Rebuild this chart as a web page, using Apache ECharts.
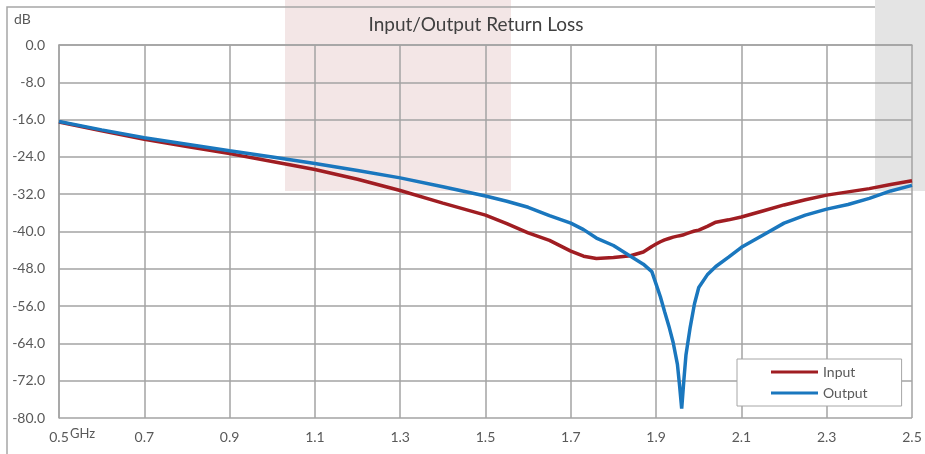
<!DOCTYPE html>
<html>
<head>
<meta charset="utf-8">
<script src="https://cdn.jsdelivr.net/npm/echarts@6/dist/echarts.min.js"></script>
<style>
  html, body { margin: 0; padding: 0; background: #fff; }
  #main { width: 925px; height: 454px; }
</style>
</head>
<body>
<div id="main"></div>
<script>
// frequency points (GHz), shared by both traces
var freqs = [0.5, 0.6, 0.7, 0.8, 0.9, 1.0, 1.1, 1.2, 1.3, 1.4, 1.5, 1.55, 1.6, 1.65, 1.7, 1.73, 1.76, 1.8,
  1.84, 1.87, 1.89, 1.9, 1.91, 1.92, 1.93, 1.94, 1.95, 1.955, 1.96, 1.965, 1.97, 1.98, 1.99, 2.0,
  2.02, 2.04, 2.07, 2.1, 2.15, 2.2, 2.25, 2.3, 2.35, 2.4, 2.45, 2.5];

var inputLoss = [-16.5, -18.4, -20.2, -21.8, -23.3, -25.0, -26.7, -28.8, -31.2, -33.9, -36.5, -38.3, -40.3, -41.9, -44.2, -45.3, -45.8, -45.6,
  -45.2, -44.4, -43.2, -42.7, -42.2, -41.8, -41.5, -41.2, -41.0, -40.9, -40.8, -40.7, -40.5, -40.2, -39.9, -39.7,
  -38.9, -38.0, -37.5, -36.9, -35.6, -34.3, -33.2, -32.2, -31.5, -30.8, -29.9, -29.1];

var outputLoss = [-16.4, -18.2, -19.9, -21.3, -22.7, -24.0, -25.4, -26.9, -28.5, -30.4, -32.4, -33.5, -34.8, -36.6, -38.2, -39.6, -41.4, -43.0,
  -45.3, -47.0, -48.6, -51.3, -54.0, -57.2, -60.3, -63.8, -68.5, -73.0, -78.0, -72.0, -66.5, -60.5, -55.5, -52.0,
  -49.3, -47.5, -45.5, -43.4, -40.8, -38.2, -36.5, -35.2, -34.2, -32.9, -31.3, -30.1];

var seriesNames = ['Input', 'Output'];
var yMin = -80, yMax = 0, yStep = 8;
var xMin = 0.5, xMax = 2.5, xStep = 0.2;

var font = 'Lato, "Open Sans", sans-serif';
var gridColor = '#a3a3a3';
var labelColor = '#595959';

function pairs(vals) {
  return freqs.map(function (f, i) { return [f, vals[i]]; });
}

var myChart = echarts.init(document.getElementById('main'));
var option = {
  backgroundColor: '#fff',
  animation: false,
  textStyle: { fontFamily: font },
  title: {
    text: 'Input/Output Return Loss',
    left: 476,
    top: 15,
    padding: 0,
    textAlign: 'center',
    textStyle: { fontFamily: font, fontSize: 19, fontWeight: 'normal', color: '#404040' }
  },
  graphic: [
    { type: 'rect', z: -30, silent: true, shape: { x: 285, y: 0, width: 226, height: 191 }, style: { fill: '#f3e6e6' } },
    { type: 'rect', z: -20, silent: true, shape: { x: 7, y: 7, width: 1000, height: 1000 }, style: { fill: 'none', stroke: '#a6a6a6', lineWidth: 1.5 } },
    { type: 'rect', z: -10, silent: true, shape: { x: 875, y: 0, width: 50, height: 191 }, style: { fill: '#e4e4e4' } },
    { type: 'text', left: 14, top: 12, style: { text: 'dB', fontFamily: font, fontSize: 14, fill: labelColor } },
    { type: 'text', left: 70, top: 427, style: { text: 'GHz', fontFamily: font, fontSize: 13, fill: labelColor } }
  ],
  legend: {
    data: seriesNames,
    orient: 'vertical',
    left: 737,
    top: 359,
    padding: [6, 34, 6, 34],
    itemGap: 7,
    itemWidth: 47,
    itemHeight: 3,
    icon: 'rect',
    selectedMode: false,
    backgroundColor: '#fff',
    borderColor: '#a6a6a6',
    borderWidth: 1,
    borderRadius: 0,
    textStyle: { fontFamily: font, fontSize: 14, color: labelColor, padding: [0, 0, 0, 0] }
  },
  grid: { left: 59, right: 13, top: 45, bottom: 36 },
  xAxis: {
    type: 'value',
    min: xMin,
    max: xMax,
    interval: xStep,
    axisLine: { show: true, lineStyle: { color: gridColor, width: 1.5 } },
    axisTick: { show: false },
    axisLabel: {
      margin: 12,
      fontFamily: font,
      fontSize: 14,
      color: labelColor,
      formatter: function (v) { return v.toFixed(1); }
    },
    splitLine: { show: true, lineStyle: { color: gridColor, width: 1.5 } }
  },
  yAxis: {
    type: 'value',
    min: yMin,
    max: yMax,
    interval: yStep,
    axisLine: { show: true, lineStyle: { color: gridColor, width: 1.5 } },
    axisTick: { show: false },
    axisLabel: {
      margin: 14,
      fontFamily: font,
      fontSize: 14,
      color: labelColor,
      formatter: function (v) { return v.toFixed(1); }
    },
    splitLine: { show: true, lineStyle: { color: gridColor, width: 1.5 } }
  },
  series: [
    {
      name: seriesNames[0],
      type: 'line',
      data: pairs(inputLoss),
      showSymbol: false,
      symbol: 'none',
      color: '#a01d22',
      lineStyle: { width: 3.5, color: '#a01d22' }
    },
    {
      name: seriesNames[1],
      type: 'line',
      data: pairs(outputLoss),
      showSymbol: false,
      symbol: 'none',
      color: '#1a77be',
      lineStyle: { width: 3.5, color: '#1a77be' }
    }
  ]
};
myChart.setOption(option);
</script>
</body>
</html>
